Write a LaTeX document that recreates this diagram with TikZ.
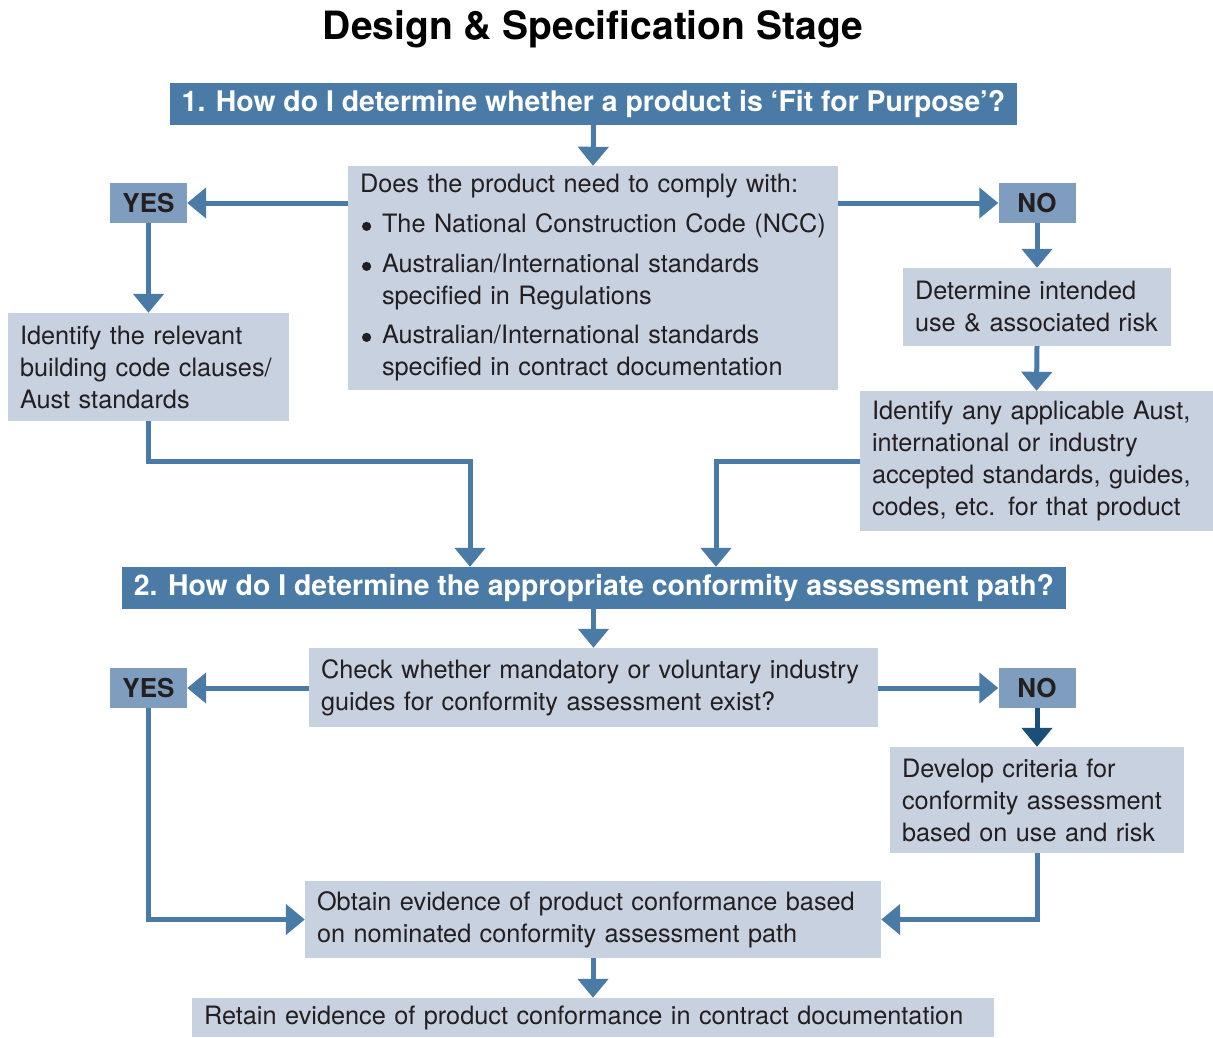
\documentclass[tikz,border=0pt]{standalone}
\usepackage{fontspec}
\setmainfont{TeX Gyre Heros}
\usetikzlibrary{arrows.meta,calc}
\definecolor{hdr}{HTML}{4A7BA7}
\definecolor{ynb}{HTML}{7F9DBF}
\definecolor{boxc}{HTML}{C8D1E0}
\definecolor{arrc}{HTML}{4A7BA7}
\definecolor{darkarr}{HTML}{1B4F7A}
\definecolor{txt}{HTML}{231F20}
\newcommand{\bul}{\raisebox{0.15ex}{\tikz\fill[txt] (0,0) circle[radius=4.6pt];}}
\tikzset{
  x=1pt, y=-1pt,
  hdrbox/.style={fill=hdr, text=white, font=\fontsize{28.4}{32}\selectfont\bfseries, inner sep=0pt, minimum height=42pt},
  ynbox/.style={fill=ynb, text=txt, font=\fontsize{26}{30}\selectfont\bfseries, inner sep=0pt, minimum width=77pt, minimum height=40pt},
  lbox/.style={fill=boxc, text=txt, font=\fontsize{25.3}{32}\selectfont, inner xsep=12pt, inner ysep=0pt, align=left},
  arr/.style={draw=arrc, line width=5pt, -{Triangle[width=30pt,length=19pt]}},
}
\begin{document}
\begin{tikzpicture}
\useasboundingbox (0,0) rectangle (1213,1037);
\node[font=\fontsize{39}{44}\selectfont\bfseries, text=black] (title) at (593,29) {Design \& Specification Stage};

\node[hdrbox, minimum width=847pt] (h1) at (593.5,104) {1. How do I determine whether a product is ‘Fit for Purpose’?};
\node[lbox, text width=466pt, minimum height=224pt] (b1) at (593,278) {\mbox{Does the product need to comply with:}\\[8pt]
\mbox{\makebox[22pt][l]{\hspace{2pt}\bul}The National Construction Code (NCC)}\\[8pt]
\mbox{\makebox[22pt][l]{\hspace{2pt}\bul}Australian/International standards}\\
\mbox{\hspace*{22pt}specified in Regulations}\\[7pt]
\mbox{\makebox[22pt][l]{\hspace{2pt}\bul}Australian/International standards}\\
\mbox{\hspace*{22pt}specified in contract documentation}};
\node[ynbox] (yes1) at (148.5,203) {YES};
\node[ynbox] (no1) at (1037,203) {NO};
\node[lbox, text width=257pt, minimum height=108pt] (idl) at (148.5,367) {\mbox{Identify the relevant}\\\mbox{building code clauses/}\\\mbox{Aust standards}};
\node[lbox, text width=244pt, minimum height=78pt] (det) at (1037,307) {\mbox{Determine intended}\\\mbox{use \& associated risk}};
\node[lbox, text width=329pt, minimum height=140pt] (ida) at (1036.5,461) {\mbox{Identify any applicable Aust,}\\\mbox{international or industry}\\\mbox{accepted standards, guides,}\\\mbox{codes, etc. for that product}};

\node[hdrbox, minimum width=944pt] (h2) at (594,588) {2. How do I determine the appropriate conformity assessment path?};
\node[lbox, text width=545pt, minimum height=79pt] (chk) at (593.5,687.5) {\mbox{Check whether mandatory or voluntary industry}\\\mbox{guides for conformity assessment exist?}};
\node[ynbox] (yes2) at (148.5,688) {YES};
\node[ynbox] (no2) at (1037,688) {NO};
\node[lbox, text width=270pt, minimum height=106pt] (dev) at (1037,800) {\mbox{Develop criteria for}\\\mbox{conformity assessment}\\\mbox{based on use and risk}};
\node[lbox, text width=552pt, minimum height=77pt] (obt) at (593,919.5) {\mbox{Obtain evidence of product conformance based}\\\mbox{on nominated conformity assessment path}};
\node[lbox, text width=778pt, minimum height=39pt] (ret) at (593,1017.5) {\mbox{Retain evidence of product conformance in contract documentation}};

\coordinate (j1) at (470,461);
\coordinate (j2) at (716,461);

\draw[arr] (h1.south) -- (b1.north);
\draw[arr] (b1.west |- yes1) -- (yes1.east);
\draw[arr] (b1.east |- no1) -- (no1.west);
\draw[arr] (yes1.south) -- (idl.north);
\draw[arr] (no1.south) -- (det.north);
\draw[arr] (det.south) -- (ida.north);
\draw[arr] (idl.south) |- (j1) -- (j1 |- h2.north);
\draw[arr] (ida.west) -- (j2) -- (j2 |- h2.north);
\draw[arr] (h2.south -| h1.south) -- (chk.north);
\draw[arr] (chk.west |- yes2) -- (yes2.east);
\draw[arr] (chk.east |- no2) -- (no2.west);
\draw[arr, draw=darkarr, -{Triangle[width=30pt,length=19pt,fill=darkarr]}] (no2.south) -- (dev.north);
\draw[arr] (yes2.south) |- (obt.west);
\draw[arr] (dev.south) |- (obt.east);
\draw[arr] (obt.south) -- (ret.north);
\end{tikzpicture}
\end{document}
